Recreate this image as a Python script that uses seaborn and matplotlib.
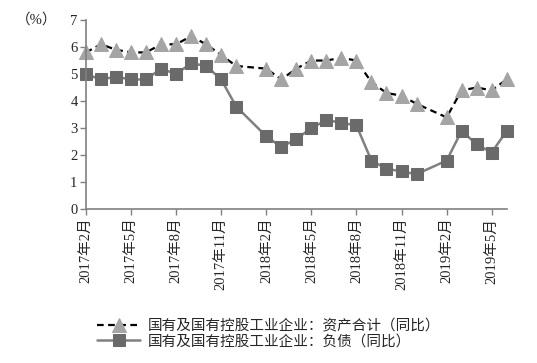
import matplotlib
matplotlib.use("Agg")
import matplotlib.pyplot as plt
import seaborn as sns
import pandas as pd

# monthly data (January is not published, so it is absent)
months = ["2017-02", "2017-03", "2017-04", "2017-05", "2017-06", "2017-07", "2017-08",
          "2017-09", "2017-10", "2017-11", "2017-12",
          "2018-02", "2018-03", "2018-04", "2018-05", "2018-06", "2018-07", "2018-08",
          "2018-09", "2018-10", "2018-11", "2018-12",
          "2019-02", "2019-03", "2019-04", "2019-05", "2019-06"]
assets = [5.8, 6.1, 5.9, 5.8, 5.8, 6.1, 6.1, 6.4, 6.1, 5.7, 5.3,
          5.2, 4.8, 5.2, 5.5, 5.5, 5.6, 5.5, 4.7, 4.3, 4.2, 3.9,
          3.4, 4.4, 4.5, 4.4, 4.8]
liabilities = [5.0, 4.8, 4.9, 4.8, 4.8, 5.2, 5.0, 5.4, 5.3, 4.8, 3.8,
               2.7, 2.3, 2.6, 3.0, 3.3, 3.2, 3.1, 1.8, 1.5, 1.4, 1.3,
               1.8, 2.9, 2.4, 2.1, 2.9]
tick_months = ["2017-02", "2017-05", "2017-08", "2017-11", "2018-02",
               "2018-05", "2018-08", "2018-11", "2019-02", "2019-05"]
label_assets = "国有及国有控股工业企业：资产合计（同比）"
label_liab = "国有及国有控股工业企业：负债（同比）"

sns.set_style("ticks")
plt.rcParams["font.family"] = ["Liberation Serif", "Noto Sans CJK SC"]
plt.rcParams["font.size"] = 10.5

start = pd.Period("2017-02", freq="M")
x = [(pd.Period(m, freq="M") - start).n for m in months]
xt = [(pd.Period(m, freq="M") - start).n for m in tick_months]
xt_labels = [f"{pd.Period(m, freq='M').year}年{pd.Period(m, freq='M').month}月" for m in tick_months]

fig = plt.figure(figsize=(5.37, 3.63), dpi=100)
ax = fig.add_axes([0.160, 0.4234, 0.7836, 0.5216])

sns.lineplot(x=x, y=assets, ax=ax, color="black", linestyle=(0, (3, 2)), linewidth=1.6,
             marker="^", markersize=10, markerfacecolor="#a5a5a5", markeredgecolor="#a5a5a5",
             label=label_assets, clip_on=False)
sns.lineplot(x=x, y=liabilities, ax=ax, color="#808080", linewidth=1.8,
             marker="s", markersize=8, markerfacecolor="#6a6a6a", markeredgecolor="#6a6a6a",
             label=label_liab, clip_on=False)

ax.set_xlim(0, 28)
ax.set_ylim(0, 7)
ax.set_yticks(range(0, 8))
ax.set_xticks(xt)
ax.set_xticklabels(xt_labels, rotation=90)
ax.tick_params(axis="both", direction="out", length=4, width=1, color="#808080", pad=2)
for s in ["top", "right"]:
    ax.spines[s].set_visible(False)
for s in ["left", "bottom"]:
    ax.spines[s].set_color("#808080")
    ax.spines[s].set_linewidth(1.2)

fig.text(0.03, 0.945, "（%）", ha="left", va="center", fontsize=10.5)

ax.get_legend().remove()
h, l = ax.get_legend_handles_labels()
fig.legend(h, l, loc="center", bbox_to_anchor=(0.500, 0.081), frameon=False,
           handlelength=3.0, labelspacing=0.1, handletextpad=0.5, borderpad=0)

fig.savefig("out.png", dpi=100)
